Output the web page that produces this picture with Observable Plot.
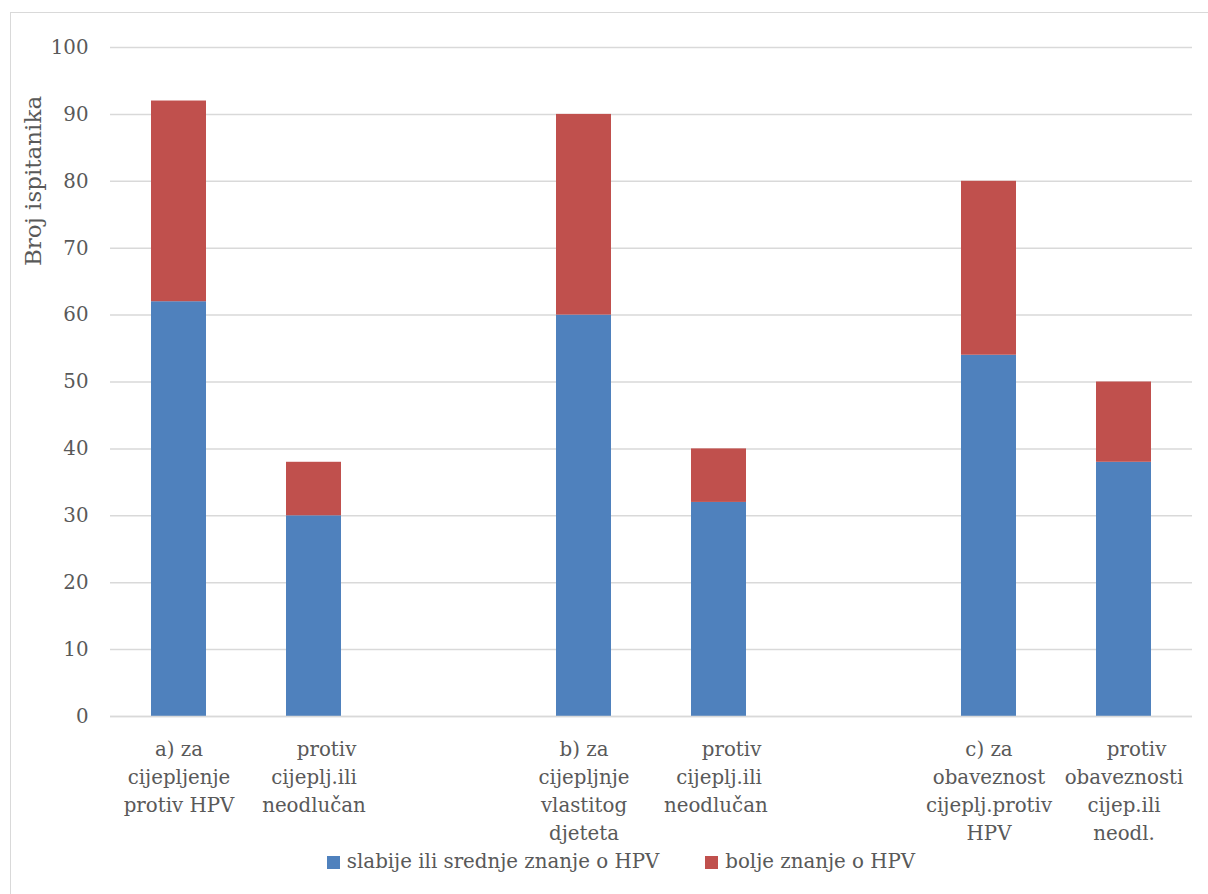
<!DOCTYPE html>
<html>
<head>
<meta charset="utf-8">
<script src="https://cdn.jsdelivr.net/npm/d3@7"></script>
<script src="https://cdn.jsdelivr.net/npm/@observablehq/plot@0.6"></script>
<style>
  body { margin: 0; background: #fff; font-family: "DejaVu Serif", serif; }
  #wrap { position: relative; width: 1208px; height: 894px; overflow: hidden; }
  #frame { position: absolute; left: 10px; top: 12px; width: 1210px; height: 900px; border: 1px solid #d9d9d9; }
  #chart { position: absolute; left: 0; top: 0; }
  #ylabel { position: absolute; left: 33px; top: 181px; transform: translate(-50%, -50%) rotate(-90deg); font-size: 23px; color: #595959; white-space: nowrap; }
  #legend { position: absolute; top: 849px; left: 17px; width: 1208px; display: flex; justify-content: center; gap: 46px; font-size: 19.8px; color: #595959; line-height: 26px; }
  #legend span.sw { display: inline-block; width: 13px; height: 13px; margin-right: 7px; }
  #legend div { display: flex; align-items: center; }
</style>
</head>
<body>
<div id="wrap">
  <div id="frame"></div>
  <div id="chart"></div>
  <div id="ylabel">Broj ispitanika</div>
  <div id="legend"></div>
</div>
<script>
const NB = "\u00a0\u00a0\u00a0\u00a0";
const categories = [
  "a) za\ncijepljenje\nprotiv HPV",
  NB + "protiv\ncijeplj.ili\nneodlučan",
  "gap1",
  "b) za\ncijepljnje\nvlastitog\ndjeteta",
  NB + "protiv\ncijeplj.ili\nneodlučan\u00a0",
  "gap2",
  "c) za\nobaveznost\ncijeplj.protiv\nHPV",
  NB + "protiv\nobaveznosti\ncijep.ili\nneodl."
];
const barCategories = [categories[0], categories[1], categories[3], categories[4], categories[6], categories[7]];
const seriesNames = ["slabije ili srednje znanje o HPV", "bolje znanje o HPV"];
const seriesColors = ["#4F81BD", "#C0504D"];
const weakKnowledge = [62, 30, 60, 32, 54, 38];
const betterKnowledge = [30, 8, 30, 8, 26, 12];
const yTicks = [0, 10, 20, 30, 40, 50, 60, 70, 80, 90, 100];

const data = [];
barCategories.forEach((c, i) => {
  data.push({cat: c, series: seriesNames[0], value: weakKnowledge[i]});
  data.push({cat: c, series: seriesNames[1], value: betterKnowledge[i]});
});

const chart = Plot.plot({
  width: 1208,
  height: 894,
  marginTop: 47,
  marginBottom: 178,
  marginLeft: 110,
  marginRight: 16,
  style: {fontFamily: "DejaVu Serif, serif", fontSize: "19.8px", color: "#595959", background: "transparent", overflow: "visible"},
  x: {domain: categories, paddingInner: 0.593, paddingOuter: 0.2965, label: null},
  y: {domain: [0, 100], label: null},
  color: {domain: seriesNames, range: seriesColors},
  marks: [
    Plot.gridY(yTicks, {stroke: "#d9d9d9", strokeOpacity: 1, strokeWidth: 1.5}),
    Plot.barY(data, {x: "cat", y: "value", fill: "series", order: seriesNames}),
    Plot.ruleY([0], {stroke: "#d9d9d9", strokeWidth: 1.5}),
    Plot.axisY(yTicks, {tickSize: 0, tickPadding: 22, label: null, fontSize: 19.8, fill: "#595959"}),
    Plot.axisX({tickSize: 0, tickPadding: 20, label: null, lineHeight: 1.414, fontSize: 19.8, fill: "#595959",
      tickFormat: d => d.startsWith("gap") ? "" : d})
  ]
});
document.getElementById("chart").appendChild(chart);

const legend = document.getElementById("legend");
seriesNames.forEach((s, i) => {
  const item = document.createElement("div");
  item.innerHTML = `<span class="sw" style="background:${seriesColors[i]}"></span>${s}`;
  legend.appendChild(item);
});
</script>
</body>
</html>
